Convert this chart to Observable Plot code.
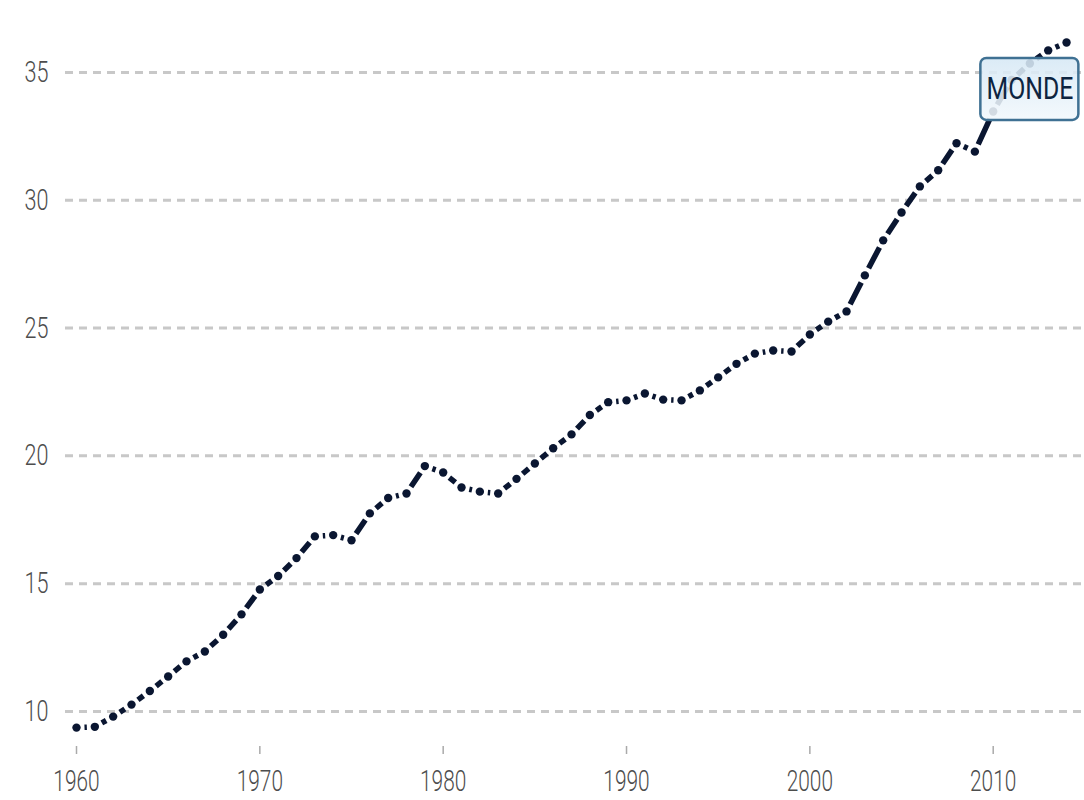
<!DOCTYPE html>
<html>
<head>
<meta charset="utf-8">
<script src="https://cdn.jsdelivr.net/npm/d3@7"></script>
<script src="https://cdn.jsdelivr.net/npm/@observablehq/plot@0.6"></script>
<style>
  html, body { margin: 0; padding: 0; background: #fff; }
  #chart svg { display: block; }
</style>
</head>
<body>
<div id="chart"></div>
<script>
const years = [1960,1961,1962,1963,1964,1965,1966,1967,1968,1969,
               1970,1971,1972,1973,1974,1975,1976,1977,1978,1979,
               1980,1981,1982,1983,1984,1985,1986,1987,1988,1989,
               1990,1991,1992,1993,1994,1995,1996,1997,1998,1999,
               2000,2001,2002,2003,2004,2005,2006,2007,2008,2009,
               2010,2011,2012,2013,2014];
const values = [9.37,9.40,9.80,10.27,10.80,11.37,11.96,12.35,13.00,13.80,
                14.77,15.30,16.00,16.85,16.90,16.70,17.75,18.35,18.53,19.60,
                19.35,18.76,18.60,18.53,19.10,19.70,20.30,20.84,21.60,22.10,
                22.17,22.44,22.20,22.17,22.56,23.07,23.60,24.00,24.12,24.08,
                24.75,25.25,25.65,27.06,28.43,29.52,30.54,31.17,32.23,31.90,
                33.47,34.70,35.35,35.86,36.17];
const xTicks = [1960,1970,1980,1990,2000,2010];
const yTicks = [10,15,20,25,30,35];
const seriesLabel = "MONDE";
const labelYear = 2012;

const data = years.map((year, i) => ({year, value: values[i]}));
const segments = data.slice(1).map((d, i) => ({x1: data[i].year, y1: data[i].value, x2: d.year, y2: d.value}));
const labelDatum = data.filter(d => d.year === labelYear);

const FONT = "Roboto, 'Liberation Sans', sans-serif";
const LINE = "#0a1631";
const GAP = 8;

function gappedLinks(index, scales, values, dimensions, context, next) {
  const g = next(index, scales, values, dimensions, context);
  d3.select(g).selectAll("path").each(function(_, j) {
    const i = index[j];
    const L = Math.hypot(values.x2[i] - values.x1[i], values.y2[i] - values.y1[i]);
    const dash = Math.max(0.01, L - 2 * GAP);
    this.setAttribute("stroke-dasharray", `0 ${GAP} ${dash} ${GAP}`);
  });
  return g;
}

function labelBox(index, scales) {
  const d = labelDatum[0];
  const cx = scales.x(d.year), cy = scales.y(d.value) + 26;
  const ns = "http://www.w3.org/2000/svg";
  const g = document.createElementNS(ns, "g");
  const defs = document.createElementNS(ns, "defs");
  defs.innerHTML = `<linearGradient id="boxgrad" x1="0" y1="0" x2="0" y2="1">
      <stop offset="0" stop-color="#d6e8f5"/><stop offset="1" stop-color="#f2f8fc"/></linearGradient>`;
  g.appendChild(defs);
  const r = document.createElementNS(ns, "rect");
  r.setAttribute("x", cx - 49); r.setAttribute("y", cy - 31);
  r.setAttribute("width", 98); r.setAttribute("height", 62);
  r.setAttribute("rx", 6);
  r.setAttribute("fill", "url(#boxgrad)");
  r.setAttribute("fill-opacity", 0.88);
  r.setAttribute("stroke", "#3f7193");
  r.setAttribute("stroke-width", 2.5);
  g.appendChild(r);
  return g;
}

function squeeze(sx) {
  return function(index, scales, values, dimensions, context, next) {
    const g = next(index, scales, values, dimensions, context);
    d3.select(g).selectAll("text").each(function() {
      const t = this.getAttribute("transform") || "";
      this.setAttribute("transform", `${t} scale(${sx},1)`);
    });
    return g;
  };
}

const chart = Plot.plot({
  width: 1084,
  height: 800,
  marginLeft: 65,
  marginRight: 0,
  marginTop: 20,
  marginBottom: 54,
  style: {fontFamily: FONT, background: "#fff"},
  x: {domain: [1959.4, 2014.98]},
  y: {domain: [8.631, 37.03]},
  marks: [
    Plot.ruleY(yTicks, {stroke: "#c8c8c8", strokeWidth: 3, strokeDasharray: "8 6"}),
    Plot.axisY({ticks: yTicks, tickSize: 0, tickPadding: 17, fontSize: 30, fill: "#4d4d4d", label: null, fontWeight: 300, render: squeeze(0.72)}),
    Plot.axisX({ticks: xTicks, tickSize: 8, tickPadding: 16, tickFormat: d => String(d), fontSize: 29, fill: "#4d4d4d", stroke: "#aaa", strokeWidth: 1.5, label: null, fontWeight: 300, render: squeeze(0.72)}),
    Plot.link(segments, {x1: "x1", y1: "y1", x2: "x2", y2: "y2", stroke: LINE, strokeWidth: 5.5, strokeLinecap: "butt", render: gappedLinks}),
    Plot.dot(data, {x: "year", y: "value", r: 4.2, fill: LINE, stroke: null}),
    labelBox,
    Plot.text(labelDatum, {x: "year", y: "value", dy: 26, text: () => seriesLabel, fontSize: 31, fill: "#0d2440", fontFamily: FONT, render: squeeze(0.8)})
  ]
});
document.getElementById("chart").appendChild(chart);
</script>
</body>
</html>
